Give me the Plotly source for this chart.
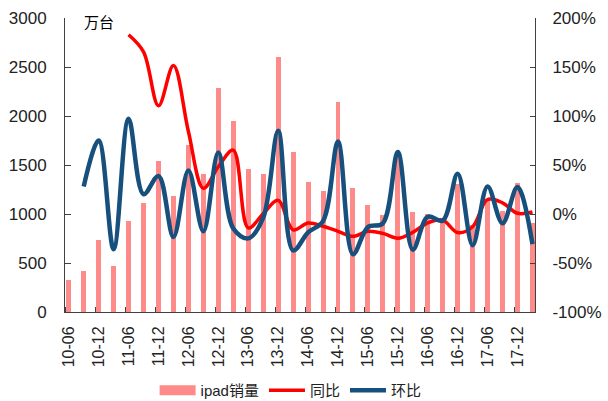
import plotly.graph_objects as go

quarters = ["10-06","10-09","10-12","11-03","11-06","11-09","11-12","12-03",
            "12-06","12-09","12-12","13-03","13-06","13-09","13-12","14-03",
            "14-06","14-09","14-12","15-03","15-06","15-09","15-12","16-03",
            "16-06","16-09","16-12","17-03","17-06","17-09","17-12","18-03"]
# iPad sales (万台)
sales = [327, 419, 733, 469, 925, 1112, 1543, 1180,
         1704, 1404, 2286, 1948, 1462, 1408, 2604, 1635,
         1328, 1232, 2142, 1262, 1093, 988, 1612, 1025,
         995, 927, 1308, 892, 1142, 1033, 1317, 911]
# 同比 (YoY)
yoy = [None, None, None, None, 1.829, 1.654, 1.105, 1.516,
       0.842, 0.263, 0.482, 0.651, -0.142, 0.003, 0.139, -0.161,
       -0.092, -0.125, -0.177, -0.228, -0.177, -0.198, -0.247, -0.188,
       -0.090, -0.062, -0.189, -0.130, 0.148, 0.114, 0.007, 0.021]
# 环比 (QoQ)
qoq = [None, 0.281, 0.749, -0.360, 0.972, 0.202, 0.388, -0.235,
       0.444, -0.176, 0.628, -0.148, -0.249, -0.037, 0.849, -0.372,
       -0.188, -0.072, 0.739, -0.411, -0.134, -0.096, 0.632, -0.364,
       -0.029, -0.068, 0.411, -0.318, 0.280, -0.095, 0.275, -0.308]

left_ticks = [0, 500, 1000, 1500, 2000, 2500, 3000]
right_ticks = [-1.0, -0.5, 0.0, 0.5, 1.0, 1.5, 2.0]
right_tick_text = ["-100%", "-50%", "0%", "50%", "100%", "150%", "200%"]

label_idx = list(range(0, len(quarters), 2))
label_txt = [quarters[i] for i in label_idx]

x = list(range(len(quarters)))
BAR = "#FF8A8A"
RED = "#FF0000"
BLUE = "#17507D"
AX = "#404040"
FONT = "Liberation Sans, Arial, Noto Sans CJK SC, sans-serif"

fig = go.Figure()
fig.add_trace(go.Bar(x=x, y=sales, width=0.33, marker=dict(color=BAR, line=dict(width=0)),
                     name="ipad销量", showlegend=False, yaxis="y"))
fig.add_trace(go.Scatter(x=x, y=yoy, mode="lines", line=dict(color=RED, width=3.5, shape="spline", smoothing=1),
                         name="同比", showlegend=False, yaxis="y2"))
fig.add_trace(go.Scatter(x=x, y=qoq, mode="lines", line=dict(color=BLUE, width=4.5, shape="spline", smoothing=1),
                         name="环比", showlegend=False, yaxis="y2"))
# legend proxies
fig.add_trace(go.Scatter(x=[None], y=[None], mode="lines", line=dict(color=BAR, width=10),
                         name="ipad销量", yaxis="y"))
fig.add_trace(go.Scatter(x=[None], y=[None], mode="lines", line=dict(color=RED, width=3.5),
                         name="同比", yaxis="y2"))
fig.add_trace(go.Scatter(x=[None], y=[None], mode="lines", line=dict(color=BLUE, width=4.5),
                         name="环比", yaxis="y2"))

fig.update_layout(
    width=608, height=401,
    margin=dict(l=65, r=73, t=18, b=89, autoexpand=False),
    paper_bgcolor="white", plot_bgcolor="white",
    font=dict(family=FONT, size=15, color="#222222"),
    bargap=0,
    xaxis=dict(range=[-0.25, 31.17], tickmode="array", tickvals=label_idx, ticktext=label_txt,
               tickangle=-90, ticks="", showline=True, linecolor=AX, linewidth=1,
               showgrid=False, zeroline=False, ticklabelstandoff=7, automargin=False,
               tickfont=dict(size=16),
               minor=dict(tickmode="linear", tick0=-0.2, dtick=2, ticks="inside",
                          ticklen=5, tickcolor=AX, tickwidth=1, showgrid=False)),
    yaxis=dict(range=[0, 3000], tickmode="array", tickvals=left_ticks, showline=True,
               linecolor=AX, linewidth=1,
               ticks="inside", ticklen=6, tickcolor=AX, showgrid=False, zeroline=False,
               ticklabelstandoff=14, tickfont=dict(size=17), automargin=False),
    yaxis2=dict(range=[-1, 2], tickmode="array", tickvals=right_ticks, ticktext=right_tick_text,
                overlaying="y", side="right",
                showline=True, linecolor=AX, linewidth=1, ticks="inside", ticklen=5,
                tickcolor=AX, showgrid=False, zeroline=False, ticklabelstandoff=13,
                tickfont=dict(size=17), automargin=False),
    legend=dict(orientation="h", x=0.48, xanchor="center", y=-0.267, yanchor="middle",
                font=dict(size=15), bgcolor="rgba(0,0,0,0)", itemwidth=36),
    annotations=[dict(text="万台", xref="paper", yref="paper", x=0.072, y=0.986,
                      xanchor="center", yanchor="middle", showarrow=False,
                      font=dict(size=15, color="#000000"))],
)

fig.write_html("out.html", config={"displayModeBar": False},
               post_script="document.body.style.margin='0';document.body.style.padding='0';")
